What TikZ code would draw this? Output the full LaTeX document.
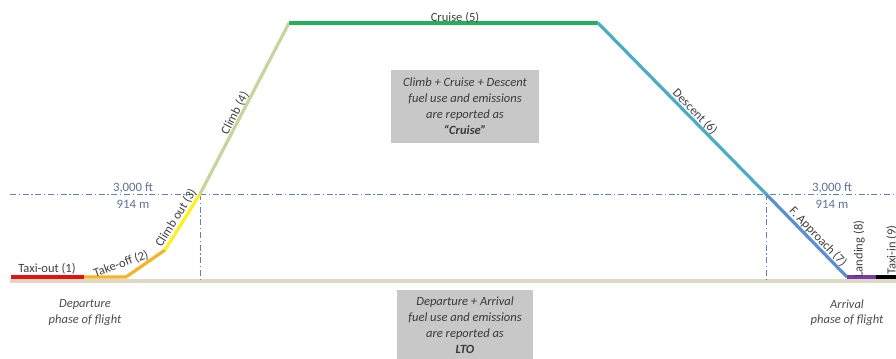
\documentclass[tikz,border=0pt]{standalone}
\usepackage{fontspec}
\setmainfont{Carlito}
\usepackage{xcolor}
\definecolor{taxired}{HTML}{E81010}
\definecolor{takeofforange}{HTML}{F5B325}
\definecolor{climbyellow}{HTML}{FFF21A}
\definecolor{climbgreen}{HTML}{C3D69B}
\definecolor{cruisegreen}{HTML}{22B05A}
\definecolor{descentblue}{HTML}{4BACC6}
\definecolor{approachblue}{HTML}{5B8ED6}
\definecolor{landpurple}{HTML}{7A3AA8}
\definecolor{groundbeige}{HTML}{DDD9C3}
\definecolor{refblue}{HTML}{5C82B8}
\definecolor{reftext}{HTML}{5A7399}
\definecolor{boxgrey}{HTML}{C8C8C8}
\definecolor{boxtext}{HTML}{3A3A3A}

\begin{document}
\begin{tikzpicture}[x=0.75pt, y=-0.75pt,
    seg/.style={line width=2.4pt, line cap=butt},
    lbl/.style={font=\fontsize{9.4}{10}\selectfont, text=black!75, inner sep=0pt},
    ref/.style={refblue, line width=0.6pt, dash pattern=on 4.5pt off 2pt on 1pt off 2pt},
    reflbl/.style={font=\fontsize{9.6}{10}\selectfont, text=reftext, inner sep=0pt},
    note/.style={fill=boxgrey, text=boxtext, align=center, inner sep=0pt,
                 font=\fontsize{9.4}{12}\selectfont\itshape},
    phase/.style={text=black!70, align=center, inner sep=0pt,
                  font=\fontsize{9.4}{11.5}\selectfont\itshape}]
    \useasboundingbox (0,0) rectangle (896,358);

    % flight path points
    \coordinate (start) at (11,277);
    \coordinate (roll) at (84,277);
    \coordinate (lift) at (126,277);
    \coordinate (bend) at (165,250);
    \coordinate (top3k) at (200,194);
    \coordinate (toc) at (289,23);
    \coordinate (tod) at (598,23);
    \coordinate (bot3k) at (766,194);
    \coordinate (touch) at (847,277);
    \coordinate (vacate) at (876,277);
    \coordinate (gate) at (896,277);

    \draw[groundbeige, line width=3pt] (10,281) -- (896,281);

    % 3,000 ft reference
    \draw[ref] (10,194) -- (896,194);
    \draw[ref] (top3k) -- (200,280);
    \draw[ref] (bot3k) -- (766,280);
    \node[reflbl] (ftl) at (133,188) {3,000 ft};
    \node[reflbl] (ml) at (133,204) {914 m};
    \node[reflbl] (ftr) at (832,188) {3,000 ft};
    \node[reflbl] (mr) at (832,204) {914 m};

    \draw[seg, taxired] (start) -- (roll);
    \draw[seg, takeofforange, line join=round] (roll) -- (lift) -- (bend);
    \draw[seg, climbyellow] (bend) -- (top3k);
    \draw[seg, climbgreen] (top3k) -- (toc);
    \draw[seg, cruisegreen] (toc) -- (tod);
    \draw[seg, descentblue] (tod) -- (bot3k);
    \draw[seg, approachblue] (bot3k) -- (touch);
    \draw[seg, landpurple] (touch) -- (vacate);
    \draw[seg, black] (vacate) -- (gate);

    \node[lbl] (taxiout) at (47,269) {Taxi-out (1)};
    \node[lbl, rotate=20] (takeoff) at (121,264) {Take-off (2)};
    \node[lbl, rotate=58] (climbout) at (176,218) {Climb out (3)};
    \node[lbl, rotate=62.5] (climb) at (235,113) {Climb (4)};
    \node[lbl] (cruise) at (455,18) {Cruise (5)};
    \node[lbl, rotate=-45.5] (descent) at (695,112) {Descent (6)};
    \node[lbl, rotate=-46] (approach) at (818,237) {F. Approach (7)};
    \node[lbl, rotate=90] (landing) at (859,249) {Landing (8)};
    \node[lbl, rotate=90] (taxiin) at (892,250) {Taxi-in (9)};

    \node[note, minimum width=111pt, minimum height=55pt] (cruisebox) at (465,106.5)
        {Climb + Cruise + Descent\\fuel use and emissions\\are reported as\\\textbf{``Cruise''}};
    \node[note, minimum width=102pt, minimum height=53pt] (ltobox) at (465,325.5)
        {Departure + Arrival\\fuel use and emissions\\are reported as\\\textbf{LTO}};

    \node[phase] (dep) at (85,312.5) {Departure\\phase of flight};
    \node[phase] (arr) at (847,312.5) {Arrival\\phase of flight};
\end{tikzpicture}
\end{document}
